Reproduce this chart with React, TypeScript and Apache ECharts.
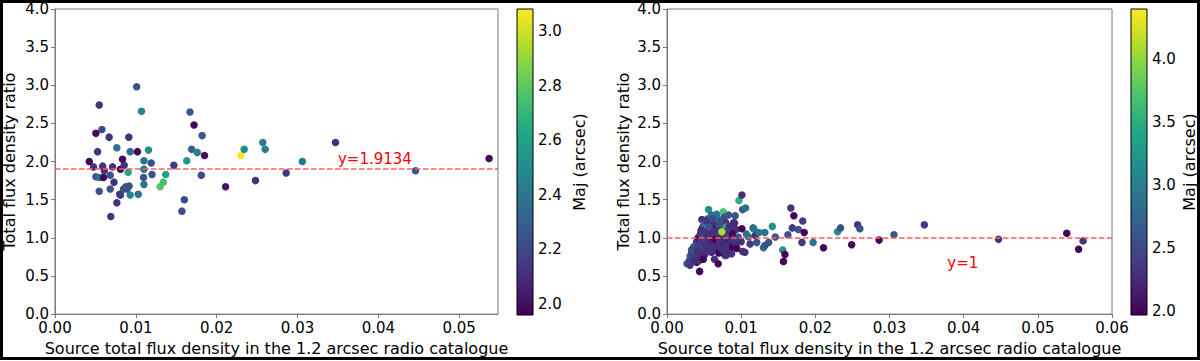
import React, { useEffect, useRef } from "react";
import * as echarts from "echarts";

// [flux (Jy), ratio, Maj (arcsec)]
const leftPoints: number[][] = [
  [0.00424, 2.0, 1.98], [0.00477, 1.93, 2.12], [0.00506, 2.37, 1.98], [0.00547, 2.74, 2.12],
  [0.0058, 2.42, 2.2], [0.00527, 2.13, 2.12], [0.00506, 1.8, 2.24], [0.00547, 1.79, 2.38],
  [0.006, 1.79, 1.98], [0.00589, 1.94, 2.12], [0.0061, 1.88, 2.12], [0.00547, 1.61, 2.24],
  [0.0067, 2.32, 2.12], [0.0069, 1.28, 2.12], [0.00683, 1.82, 2.24], [0.00683, 1.64, 2.24],
  [0.00712, 1.93, 2.12], [0.0073, 1.73, 2.12], [0.00765, 2.18, 2.38], [0.00765, 1.46, 2.12],
  [0.008, 1.57, 2.12], [0.0081, 1.56, 2.14], [0.00835, 2.03, 1.98], [0.0081, 1.9, 2.0],
  [0.00856, 1.95, 2.12], [0.00848, 1.64, 2.24], [0.00877, 1.67, 2.24], [0.00905, 1.86, 2.62],
  [0.00913, 2.32, 2.12], [0.0093, 2.13, 2.35], [0.00917, 1.68, 2.24], [0.0093, 1.56, 2.45],
  [0.0089, 1.64, 2.24], [0.0101, 2.98, 2.24], [0.0102, 2.13, 1.98], [0.0103, 1.57, 2.38],
  [0.0107, 2.66, 2.48], [0.011, 2.01, 2.4], [0.011, 1.9, 2.4], [0.01095, 1.79, 2.24],
  [0.011, 1.7, 2.4], [0.01156, 2.15, 2.5], [0.0119, 1.98, 2.24], [0.012, 1.83, 2.24],
  [0.013, 1.67, 2.78], [0.0134, 1.73, 2.75], [0.0137, 1.83, 2.6], [0.0147, 1.95, 2.14],
  [0.0157, 1.35, 2.22], [0.016, 1.5, 2.22], [0.0163, 2.01, 2.55], [0.0167, 2.65, 2.26],
  [0.0169, 2.16, 2.3], [0.0172, 2.48, 1.98], [0.0176, 2.12, 2.45], [0.0182, 2.34, 2.26],
  [0.0181, 1.82, 2.22], [0.0185, 2.08, 2.0], [0.0211, 1.67, 2.02], [0.023, 2.08, 3.07],
  [0.0234, 2.16, 2.5], [0.0248, 1.75, 2.12], [0.0257, 2.25, 2.42], [0.026, 2.16, 2.42],
  [0.0286, 1.85, 2.14], [0.0306, 2.0, 2.42], [0.0347, 2.25, 2.12], [0.0446, 1.88, 2.24],
  [0.0537, 2.04, 1.98],
];

const rightPoints: number[][] = [
  [0.0027, 0.66, 2.6], [0.0031, 0.64, 2.35], [0.003, 0.7, 2.4], [0.0031, 0.76, 2.9],
  [0.0033, 0.8, 2.4], [0.0033, 0.84, 2.6], [0.0035, 0.72, 2.3], [0.0036, 0.78, 2.5],
  [0.0036, 0.88, 2.35], [0.0038, 0.9, 2.9], [0.0038, 0.83, 2.6], [0.004, 0.68, 2.0],
  [0.004, 0.95, 2.4], [0.0042, 1.0, 2.0], [0.0042, 0.76, 2.35], [0.0044, 0.56, 2.0],
  [0.0044, 0.88, 2.6], [0.0045, 1.05, 2.3], [0.0046, 0.97, 2.5], [0.0047, 0.86, 2.6],
  [0.0047, 1.24, 2.3], [0.0048, 1.14, 2.3], [0.0049, 1.05, 2.6], [0.005, 0.93, 2.3],
  [0.005, 1.18, 2.9], [0.0051, 0.78, 2.3], [0.0052, 1.1, 2.0], [0.0053, 0.99, 2.4],
  [0.0054, 1.16, 2.9], [0.0055, 1.25, 2.6], [0.0056, 1.37, 3.2], [0.0056, 0.99, 2.3],
  [0.0057, 0.9, 2.0], [0.0058, 1.08, 2.6], [0.0059, 1.2, 2.3], [0.006, 0.81, 2.3],
  [0.006, 1.3, 2.9], [0.0061, 1.02, 2.35], [0.0062, 1.12, 2.0], [0.0063, 0.95, 2.9],
  [0.0064, 0.72, 2.3], [0.0065, 1.2, 2.3], [0.0066, 1.04, 3.1], [0.0067, 0.92, 2.3],
  [0.0067, 1.31, 2.9], [0.0068, 0.86, 2.0], [0.0069, 1.24, 2.9], [0.0069, 0.66, 2.0],
  [0.007, 1.0, 2.3], [0.0071, 1.15, 2.6], [0.0072, 0.88, 2.35], [0.0073, 1.05, 2.3],
  [0.0076, 1.34, 3.7], [0.0076, 0.93, 2.0], [0.0077, 1.27, 2.6], [0.0077, 0.99, 2.3],
  [0.0078, 0.77, 2.3], [0.0079, 1.2, 2.3], [0.008, 1.14, 3.5], [0.008, 0.77, 2.3],
  [0.0081, 0.84, 2.3], [0.0082, 1.03, 2.6], [0.0083, 1.3, 2.6], [0.0084, 0.95, 2.0],
  [0.0085, 0.92, 2.3], [0.0086, 1.1, 2.6], [0.0087, 0.79, 2.3], [0.0088, 0.88, 2.0],
  [0.0089, 1.12, 2.3], [0.009, 1.2, 2.3], [0.0091, 1.19, 2.3], [0.0092, 1.29, 2.6],
  [0.0093, 0.92, 2.3], [0.0093, 1.11, 2.3], [0.0094, 0.86, 2.0], [0.0096, 1.01, 2.6],
  [0.0097, 1.49, 3.5], [0.01, 0.95, 2.3], [0.0101, 1.56, 2.3], [0.0101, 1.12, 2.0],
  [0.0102, 1.37, 2.6], [0.0102, 0.82, 2.3], [0.0105, 0.81, 2.3], [0.0106, 1.39, 2.9],
  [0.0107, 1.05, 2.9], [0.011, 1.01, 2.9], [0.0112, 0.92, 2.35], [0.0116, 1.13, 2.6],
  [0.0117, 1.12, 2.9], [0.0119, 1.03, 2.3], [0.0121, 0.94, 2.6], [0.0124, 1.07, 2.9],
  [0.013, 0.87, 2.9], [0.0132, 1.07, 2.9], [0.0132, 0.9, 2.6], [0.0137, 0.94, 2.6],
  [0.0142, 1.15, 3.2], [0.0146, 1.01, 2.6], [0.0156, 0.84, 3.2], [0.0157, 0.69, 2.0],
  [0.0159, 0.78, 2.0], [0.0163, 1.04, 2.6], [0.0167, 1.39, 2.35], [0.0169, 1.13, 2.35],
  [0.0171, 1.29, 2.0], [0.0177, 1.11, 2.6], [0.0182, 0.94, 2.35], [0.0183, 1.22, 2.35],
  [0.0185, 1.07, 2.0], [0.0197, 0.94, 2.9], [0.0211, 0.87, 2.0], [0.023, 1.08, 3.1],
  [0.0234, 1.13, 2.6], [0.0249, 0.91, 2.0], [0.0257, 1.17, 2.35], [0.026, 1.12, 2.6],
  [0.0286, 0.97, 2.0], [0.0306, 1.04, 2.6], [0.0347, 1.17, 2.35], [0.0447, 0.98, 2.35],
  [0.0539, 1.06, 2.0], [0.0555, 0.85, 2.0], [0.0561, 0.96, 2.35],
  [0.0034, 0.74, 2.4], [0.0037, 0.7, 2.3], [0.0039, 0.86, 2.5], [0.0041, 0.82, 2.3],
  [0.0043, 0.92, 2.4], [0.0043, 0.7, 2.3], [0.0045, 0.8, 2.3], [0.0046, 1.1, 2.3],
  [0.0048, 0.96, 2.35], [0.0049, 0.72, 2.0], [0.005, 1.08, 2.35], [0.0052, 0.88, 2.35],
  [0.0053, 1.22, 2.35], [0.0054, 0.83, 2.3], [0.0055, 1.05, 2.3], [0.0057, 1.14, 2.6],
  [0.0058, 0.95, 2.3], [0.0059, 0.86, 2.3], [0.0061, 1.25, 2.5], [0.0062, 0.9, 2.3],
  [0.0063, 1.08, 2.3], [0.0064, 0.98, 2.0], [0.0066, 0.84, 2.3], [0.0068, 1.1, 2.3],
  [0.007, 0.8, 2.0], [0.0071, 0.95, 2.3], [0.0072, 1.22, 2.6], [0.0074, 0.85, 2.3],
  [0.0075, 1.0, 2.3], [0.0078, 1.08, 2.3], [0.0079, 0.9, 2.3], [0.0084, 1.15, 2.3],
  [0.0086, 0.97, 2.3], [0.0088, 1.05, 2.0], [0.009, 0.98, 2.35],
  [0.0074, 1.08, 4.1],
];

const xTicksLeft = [0, 0.01, 0.02, 0.03, 0.04, 0.05];
const xTicksRight = [0, 0.01, 0.02, 0.03, 0.04, 0.05, 0.06];
const cbTicksLeft = [2.0, 2.2, 2.4, 2.6, 2.8, 3.0];
const cbTicksRight = [2.0, 2.5, 3.0, 3.5, 4.0];
const fitLeft = 1.9134;
const fitRight = 1;
const fitLabels = [
  { text: "y=1.9134", x: 0.035, y: 1.93 },
  { text: "y=1", x: 0.0378, y: 0.57 },
];

const VIRIDIS = [
  "#440154", "#482475", "#414487", "#355f8d", "#2a788e", "#21918c",
  "#22a884", "#44bf70", "#7ad151", "#bddf26", "#fde725",
];

const FONT = "DejaVu Sans";
const AXIS_GRAY = "#7a7a7a";
const TITLE_SIZE = 16;

export default function App() {
  const ref = useRef<HTMLDivElement>(null);
  useEffect(() => {
    if (!ref.current) return;
    const chart = echarts.init(ref.current, null, { renderer: "svg" });

    const mainX = (gi: number, max: number, ticks: number[]) => ({
      gridIndex: gi,
      type: "value",
      min: 0,
      max,
      splitLine: { show: false },
      axisLine: { show: true, lineStyle: { color: AXIS_GRAY, width: 1 } },
      axisTick: { show: true, length: 4, lineStyle: { color: AXIS_GRAY }, customValues: ticks },
      axisLabel: {
        customValues: ticks,
        formatter: (v: number) => v.toFixed(2),
        color: "#000",
        fontSize: 15,
        fontFamily: FONT,
        margin: 6,
      },
      name: "Source total flux density in the 1.2 arcsec radio catalogue",
      nameLocation: "middle",
      nameGap: 23,
      nameTextStyle: { color: "#000", fontSize: TITLE_SIZE, fontFamily: FONT },
    });
    const mainY = (gi: number, gap: number) => ({
      gridIndex: gi,
      type: "value",
      min: 0,
      max: 4,
      interval: 0.5,
      splitLine: { show: false },
      axisLine: { show: true, lineStyle: { color: AXIS_GRAY, width: 1 } },
      axisTick: { show: true, length: 4, lineStyle: { color: AXIS_GRAY } },
      axisLabel: {
        formatter: (v: number) => v.toFixed(1),
        color: "#000",
        fontSize: 15,
        fontFamily: FONT,
        margin: 6,
      },
      name: "Total flux density ratio",
      nameLocation: "middle",
      nameGap: gap,
      nameTextStyle: { color: "#000", fontSize: TITLE_SIZE, fontFamily: FONT },
    });
    const cbY = (gi: number, min: number, max: number, ticks: number[], gap: number) => ({
      gridIndex: gi,
      type: "value",
      position: "right",
      min,
      max,
      splitLine: { show: false },
      axisLine: { show: false },
      axisTick: { show: true, length: 4, lineStyle: { color: "#000" }, customValues: ticks },
      axisLabel: {
        customValues: ticks,
        formatter: (v: number) => v.toFixed(1),
        color: "#000",
        fontSize: 15,
        fontFamily: FONT,
        margin: 5,
      },
      name: "Maj (arcsec)",
      nameLocation: "middle",
      nameGap: gap,
      nameTextStyle: { color: "#000", fontSize: TITLE_SIZE, fontFamily: FONT },
    });

    const stops = VIRIDIS.map((c, i) => ({ offset: i / (VIRIDIS.length - 1), color: c }));
    const colorbar = (xi: number) => ({
      type: "custom",
      xAxisIndex: xi,
      yAxisIndex: xi,
      silent: true,
      data: [[0.5, 0]],
      renderItem: (params: any) => {
        const cs = params.coordSys;
        return {
          type: "rect",
          shape: { x: cs.x, y: cs.y, width: cs.width, height: cs.height },
          style: {
            fill: new echarts.graphic.LinearGradient(0, 1, 0, 0, stops),
            stroke: "#000",
            lineWidth: 1,
          },
        };
      },
    });
    const fitLine = (v: number) => ({
      silent: true,
      symbol: "none",
      label: { show: false },
      lineStyle: { color: "#ff5c5c", type: [5.5, 2.5], width: 1.5 },
      data: [{ yAxis: v }],
    });
    const textSeries = (xi: number, lab: { text: string; x: number; y: number }) => ({
      type: "custom",
      xAxisIndex: xi,
      yAxisIndex: xi,
      silent: true,
      data: [[lab.x, lab.y]],
      z: 5,
      renderItem: (_p: any, api: any) => {
        const pt = api.coord([api.value(0), api.value(1)]);
        return {
          type: "text",
          x: pt[0],
          y: pt[1],
          style: {
            text: lab.text,
            fill: "#ff0000",
            font: `15px "${FONT}"`,
            textAlign: "left",
            textVerticalAlign: "bottom",
          },
        };
      },
    });

    chart.setOption({
      animation: false,
      backgroundColor: "#ffffff",
      textStyle: { fontFamily: FONT },
      grid: [
        { left: 54, top: 9, width: 444, height: 307, show: true, borderColor: AXIS_GRAY, borderWidth: 1, backgroundColor: "transparent" },
        { left: 517, top: 9, width: 16, height: 306 },
        { left: 667, top: 9, width: 445, height: 307, show: true, borderColor: AXIS_GRAY, borderWidth: 1, backgroundColor: "transparent" },
        { left: 1131, top: 9, width: 16, height: 306 },
      ],
      xAxis: [
        mainX(0, 0.0548, xTicksLeft),
        { gridIndex: 1, type: "value", min: 0, max: 1, show: false },
        mainX(2, 0.06, xTicksRight),
        { gridIndex: 3, type: "value", min: 0, max: 1, show: false },
      ],
      yAxis: [
        mainY(0, 38),
        cbY(1, 1.96, 3.08, cbTicksLeft, 38),
        mainY(2, 36),
        cbY(3, 1.97, 4.4, cbTicksRight, 34),
      ],
      visualMap: [
        { type: "continuous", show: false, seriesIndex: 0, dimension: 2, min: 1.96, max: 3.08, inRange: { color: VIRIDIS } },
        { type: "continuous", show: false, seriesIndex: 2, dimension: 2, min: 1.97, max: 4.4, inRange: { color: VIRIDIS } },
      ],
      series: [
        {
          type: "scatter",
          xAxisIndex: 0,
          yAxisIndex: 0,
          symbolSize: 7.5,
          itemStyle: { opacity: 1 },
          data: leftPoints,
          markLine: fitLine(fitLeft),
        },
        colorbar(1),
        {
          type: "scatter",
          xAxisIndex: 2,
          yAxisIndex: 2,
          symbolSize: 7.5,
          itemStyle: { opacity: 1 },
          data: rightPoints,
          markLine: fitLine(fitRight),
        },
        colorbar(3),
        textSeries(0, fitLabels[0]),
        textSeries(2, fitLabels[1]),
      ],
      graphic: [
        {
          type: "rect",
          z: 100,
          shape: { x: 1.5, y: 1.5, width: 1197, height: 357 },
          style: { fill: "none", stroke: "#000", lineWidth: 3 },
        },
      ],
    });
    return () => chart.dispose();
  }, []);

  return (
    <div
      ref={ref}
      style={{ position: "absolute", left: 0, top: 0, width: 1200, height: 361 }}
    />
  );
}
